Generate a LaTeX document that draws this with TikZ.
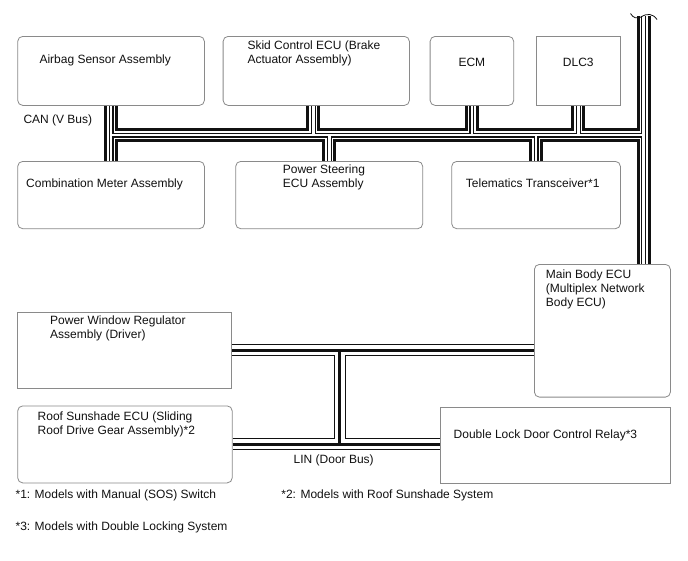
\documentclass[tikz,border=0pt]{standalone}
\usepackage{fontspec}
\setmainfont{Liberation Sans}
\usepackage{xcolor}
\usepackage{tikz}
\usetikzlibrary{positioning,calc}
\definecolor{Ink}{HTML}{111111}
\definecolor{Frame}{HTML}{8A8A8A}
\newcommand{\EcuBox}[5][ecu]{%
\node[#1, anchor=north west, minimum width=#4, minimum height=#5] (#2) at #3 {};
}
\newcommand{\CanRoute}{%
  (airbag.south) -- (comb.north)
  (canJoin) -- (canJoin -| trunkTop)
  ([xshift=-3pt]skid.south) -- ([xshift=-3pt]skid.south |- canJoin)
  (ecm.south) -- (ecm.south |- canJoin)
  (dlc.south) -- (dlc.south |- canJoin)
  (steer.north |- canJoin) -- (steer.north)
  (tele.north |- canJoin) -- (tele.north)
  (trunkTop) -- (trunkTop |- main.north)
}
\newcommand{\LinRoute}{%
  (pwr.east) -- (pwr.east -| main.west)
  (linDrop |- pwr.east) -- (linDrop |- roof.east)
  (roof.east) -- (roof.east -| relay.west)
}

\begin{document}
\begin{tikzpicture}[
    x=1pt,
    y=-1pt,
    ecu/.style={draw=Frame, line width=0.8pt, rounded corners=5pt, inner sep=0pt},
    ecusq/.style={ecu, rounded corners=0pt},
    txt/.style={font=\fontsize{12}{14}\selectfont, text=Ink, inner sep=0pt, anchor=north west, align=left}
]

\fill[white] (0,0) rectangle (688,560);
\useasboundingbox (0,0) rectangle (688,560);

% ECUs on CAN
\EcuBox{airbag}{(17.3,36)}{186.7pt}{69pt}
\EcuBox{skid}{(222.7,36)}{186.3pt}{69pt}
\EcuBox{ecm}{(429.7,36)}{83.6pt}{69pt}
\EcuBox[ecusq]{dlc}{(535.7,36)}{84.3pt}{69pt}
\EcuBox{comb}{(17.3,161)}{186.7pt}{67.3pt}
\EcuBox{steer}{(235.3,161)}{187pt}{67.3pt}
\EcuBox{tele}{(451.3,161)}{168.7pt}{67.3pt}
\EcuBox{main}{(534,264)}{136pt}{132.7pt}

% ECUs on LIN
\EcuBox[ecusq]{pwr}{(17.3,311.7)}{214pt}{76.6pt}
\EcuBox{roof}{(17.3,405.5)}{214.5pt}{77pt}
\EcuBox[ecusq]{relay}{(439.7,407.3)}{230.3pt}{76pt}

% texts
\node[txt] (airbagText) at (39.3,55) {Airbag Sensor Assembly};
\node[txt] (skidText) at (247.3,40.7) {Skid Control ECU (Brake\\Actuator Assembly)};
\node[txt, anchor=north] (ecmText) at (ecm.north |- 0,58.3) {ECM};
\node[txt, anchor=north] (dlcText) at (dlc.north |- 0,58.3) {DLC3};
\node[txt] (canText) at (23.3,115) {CAN (V Bus)};
\node[txt] (combText) at (26,178.3) {Combination Meter Assembly};
\node[txt] (steerText) at (282.7,165) {Power Steering\\ECU Assembly};
\node[txt] (teleText) at (465.7,178.3) {Telematics Transceiver*1};
\node[txt] (mainText) at (545.7,269.3) {Main Body ECU\\(Multiplex Network\\Body ECU)};
\node[txt] (pwrText) at (50,316) {Power Window Regulator\\Assembly (Driver)};
\node[txt] (roofText) at (37.5,411.7) {Roof Sunshade ECU (Sliding\\Roof Drive Gear Assembly)*2};
\node[txt] (relayText) at (453.5,429.3) {Double Lock Door Control Relay*3};
\node[txt] (linText) at (293.5,455) {LIN (Door Bus)};
\node[txt] (noteA) at (15.4,490) {*1: Models with Manual (SOS) Switch};
\node[txt] (noteB) at (281.2,490) {*2: Models with Roof Sunshade System};
\node[txt] (noteC) at (15.4,521.7) {*3: Models with Double Locking System};

% CAN bus
\coordinate (canJoin) at (airbag.south |- 0,135);
\coordinate (trunkTop) at (643.5,16);
\foreach \w/\c in {14/Ink, 8/white, 5/Ink, 2.6/white} {
  \draw[line width=\w pt, \c] \CanRoute;
}
\draw[Ink, line width=0.8pt] (630.5,13.5) .. controls (633,18) and (637,19) .. (641,17)
  .. controls (647,13) and (653,13.5) .. (657,19.5);

% LIN bus
\coordinate (linDrop) at (339.5,0);
\foreach \w/\c in {12/Ink, 10/white, 3.5/Ink} {
  \draw[line width=\w pt, \c] \LinRoute;
}

\end{tikzpicture}
\end{document}
